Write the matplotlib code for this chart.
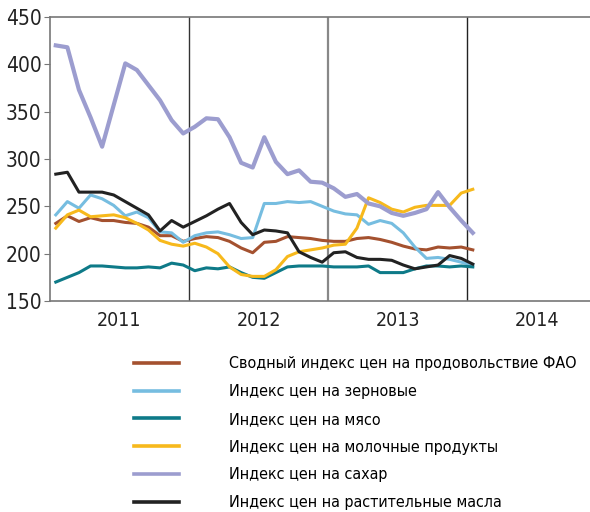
import matplotlib
matplotlib.use("Agg")
import matplotlib.pyplot as plt
import numpy as np

# monthly index values, Jan 2011 .. Jan 2014
food = [232, 240, 234, 238, 235, 235, 233, 232, 228, 219, 219, 213,
        216, 218, 217, 213, 206, 201, 212, 213, 218, 217, 216, 214,
        213, 213, 216, 217, 215, 212, 208, 205, 204, 207, 206, 207, 204]
cereals = [241, 255, 248, 262, 258, 251, 240, 244, 238, 223, 222, 212,
           219, 222, 223, 220, 216, 217, 253, 253, 255, 254, 255, 250,
           245, 242, 241, 231, 235, 232, 222, 207, 195, 196, 194, 191, 188]
meat = [170, 175, 180, 187, 187, 186, 185, 185, 186, 185, 190, 188,
        182, 185, 184, 186, 180, 175, 174, 180, 186, 187, 187, 187,
        186, 186, 186, 187, 180, 180, 180, 184, 187, 187, 186, 187, 186]
dairy = [227, 241, 246, 239, 240, 241, 238, 232, 225, 214, 210, 208,
         211, 207, 200, 186, 178, 176, 176, 183, 197, 202, 204, 206,
         209, 210, 227, 259, 254, 247, 244, 249, 251, 251, 251, 264, 268]
sugar = [420, 418, 373, 344, 313, 357, 401, 394, 378, 362, 341, 327,
         334, 343, 342, 323, 296, 291, 323, 297, 284, 288, 276, 275,
         269, 260, 263, 253, 250, 243, 240, 243, 247, 265, 249, 235, 222]
oils = [284, 286, 265, 265, 265, 262, 255, 248, 241, 224, 235, 228,
        234, 240, 247, 253, 233, 220, 225, 224, 222, 202, 196, 191,
        201, 202, 196, 194, 194, 193, 188, 184, 186, 188, 198, 195, 189]

labels = ["Сводный индекс цен на продовольствие ФАО",
          "Индекс цен на зерновые",
          "Индекс цен на мясо",
          "Индекс цен на молочные продукты",
          "Индекс цен на сахар",
          "Индекс цен на растительные масла"]
colors = ["#a4512f", "#76bde0", "#0e7a88", "#f7b91c", "#9c9dcf", "#222222"]
years = [2011, 2012, 2013, 2014]

plt.rcParams['font.family'] = ['DejaVu Sans']
plt.rcParams['font.stretch'] = 'condensed'

months = 2011 + (np.arange(len(food)) + 0.5) / 12.0

fig = plt.figure(figsize=(5.9, 5.12), dpi=100)
ax = fig.add_axes([50 / 590, 1 - 301 / 512, 1 - 50 / 590, (301 - 17) / 512])

series = [food, cereals, meat, dairy, sugar, oils]
handles = []
for vals, lab, col in zip(series, labels, colors):
    lw = 3.0 if col == "#9c9dcf" else 2.2
    h, = ax.plot(months, vals, color=col, lw=lw, label=lab)
    handles.append(h)

# year separators
ax.axvline(2012, color="#333333", lw=1.0, zorder=0)
ax.axvline(2013, color="#888888", lw=1.6, zorder=0)
ax.axvline(2014, color="#222222", lw=1.0, zorder=0)

ax.set_xlim(2011, 2011 + 540 / 139)
ax.set_ylim(150, 450)
ax.set_yticks([150, 200, 250, 300, 350, 400, 450])
ax.tick_params(axis='y', direction='out', length=4, color="#777777",
               labelsize=15, pad=2, labelcolor="#222222")
ax.set_xticks([])
ax.set_xticks([y + 0.5 for y in years], minor=True)
ax.set_xticklabels([str(y) for y in years], minor=True)
ax.tick_params(axis='x', which='minor', length=0, labelsize=14, pad=7,
               labelcolor="#222222")

for side in ['left', 'top', 'bottom']:
    ax.spines[side].set_color("#777777")
    ax.spines[side].set_linewidth(1.2)
ax.spines['right'].set_visible(False)

leg = fig.legend(handles=handles, labels=labels, loc='upper left',
                 bbox_to_anchor=(128 / 590, 1 - 350 / 512), frameon=False,
                 fontsize=11.5, handlelength=2.8, handletextpad=3.15,
                 labelspacing=0.8, borderaxespad=0)
for ln in leg.get_lines():
    ln.set_linewidth(2.6)

fig.savefig("out.png", dpi=100)
